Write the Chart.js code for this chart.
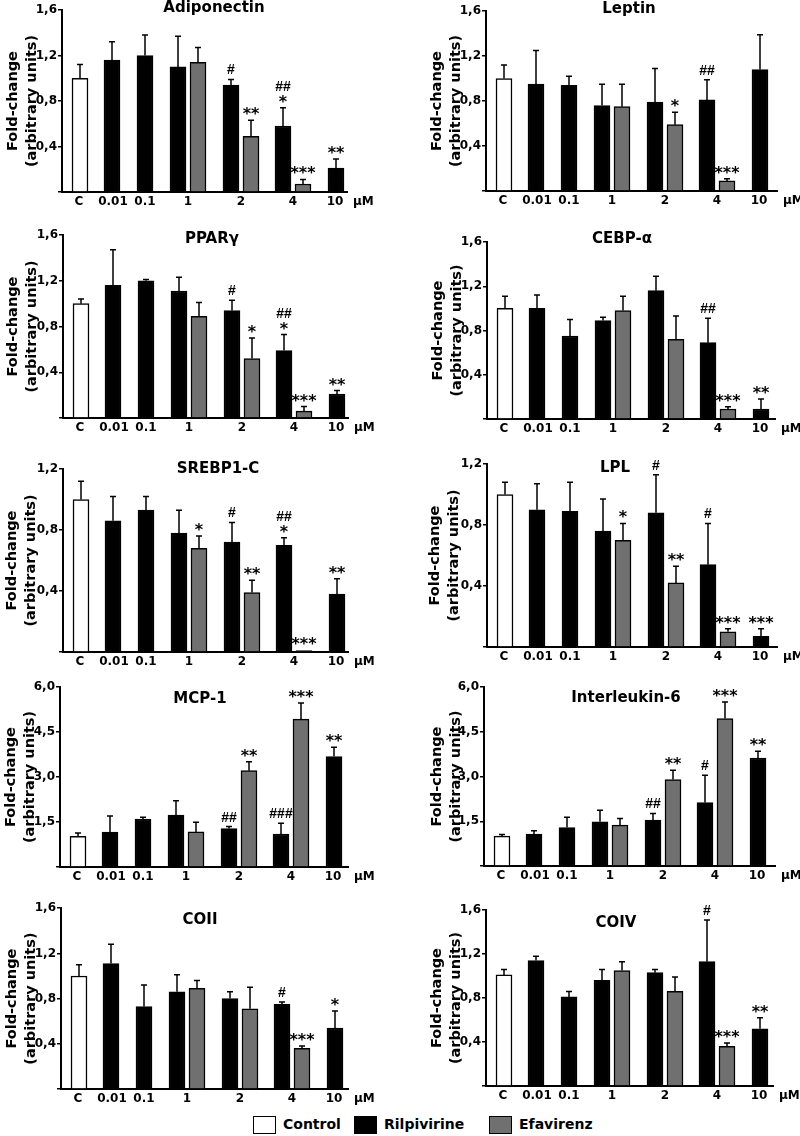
<!DOCTYPE html>
<html>
<head>
<meta charset="utf-8">
<script src="https://cdn.jsdelivr.net/npm/chart.js@4.4.1/dist/chart.umd.min.js"></script>
<style>
  body { margin: 0; background: #fff; }
  #figure { position: relative; width: 800px; height: 1136px; overflow: hidden; }
  .panel { position: absolute; }
  .legend { position: absolute; top: 1116px; height: 19px; line-height: 19px;
            font: bold 14px 'DejaVu Sans'; color: #000; white-space: nowrap; }
  .legend .box { position: absolute; left: 0; top: 0; width: 21px; height: 16px;
                 border: 1.5px solid #000; }
  .legend .txt { position: absolute; left: 30px; top: 0; }
</style>
</head>
<body>
<div id="figure">
  <div class="legend" style="left:253px"><span class="box" style="background:#fff"></span><span class="txt">Control</span></div>
  <div class="legend" style="left:354px"><span class="box" style="background:#000"></span><span class="txt">Rilpivirine</span></div>
  <div class="legend" style="left:489px"><span class="box" style="background:#707070"></span><span class="txt">Efavirenz</span></div>
</div>
<script>
// doses (µM) on the x axis
const doses = ['C', '0.01', '0.1', '1', '2', '4', '10'];
const rilDoses = ['0.01', '0.1', '1', '2', '4', '10'];
const efaDoses = ['1', '2', '4'];

// Adiponectin
const adipoCtrl = [1.00], adipoCtrlErr = [0.12];
const adipoRil = [1.16, 1.20, 1.10, 0.94, 0.58, 0.21];
const adipoRilErr = [0.16, 0.18, 0.27, 0.05, 0.16, 0.08];
const adipoEfa = [1.14, 0.49, 0.07];
const adipoEfaErr = [0.13, 0.14, 0.04];
const adipoRilSig = ['', '', '', '#', '##|*', '**'];
const adipoEfaSig = ['', '**', '***'];

// Leptin
const leptinCtrl = [1.00], leptinCtrlErr = [0.12];
const leptinRil = [0.95, 0.94, 0.76, 0.79, 0.81, 1.08];
const leptinRilErr = [0.30, 0.08, 0.19, 0.30, 0.18, 0.31];
const leptinEfa = [0.75, 0.59, 0.09];
const leptinEfaErr = [0.20, 0.11, 0.02];
const leptinRilSig = ['', '', '', '', '##', ''];
const leptinEfaSig = ['', '*', '***'];

// PPARγ
const pparCtrl = [1.00], pparCtrlErr = [0.04];
const pparRil = [1.16, 1.20, 1.11, 0.94, 0.59, 0.21];
const pparRilErr = [0.31, 0.01, 0.12, 0.09, 0.14, 0.03];
const pparEfa = [0.89, 0.52, 0.06];
const pparEfaErr = [0.12, 0.18, 0.04];
const pparRilSig = ['', '', '', '#', '##|*', '**'];
const pparEfaSig = ['', '*', '***'];

// CEBP-α
const cebpCtrl = [1.00], cebpCtrlErr = [0.11];
const cebpRil = [1.00, 0.75, 0.89, 1.16, 0.69, 0.09];
const cebpRilErr = [0.12, 0.15, 0.03, 0.13, 0.22, 0.09];
const cebpEfa = [0.98, 0.72, 0.09];
const cebpEfaErr = [0.13, 0.21, 0.02];
const cebpRilSig = ['', '', '', '', '##', '**'];
const cebpEfaSig = ['', '', '***'];

// SREBP1-C
const srebpCtrl = [1.00], srebpCtrlErr = [0.12];
const srebpRil = [0.86, 0.93, 0.78, 0.72, 0.70, 0.38];
const srebpRilErr = [0.16, 0.09, 0.15, 0.13, 0.05, 0.10];
const srebpEfa = [0.68, 0.39, 0.01];
const srebpEfaErr = [0.08, 0.08, 0];
const srebpRilSig = ['', '', '', '#', '##|*', '**'];
const srebpEfaSig = ['*', '**', '***'];

// LPL
const lplCtrl = [1.00], lplCtrlErr = [0.08];
const lplRil = [0.90, 0.89, 0.76, 0.88, 0.54, 0.07];
const lplRilErr = [0.17, 0.19, 0.21, 0.25, 0.27, 0.05];
const lplEfa = [0.70, 0.42, 0.10];
const lplEfaErr = [0.11, 0.11, 0.02];
const lplRilSig = ['', '', '', '#', '#', '***'];
const lplEfaSig = ['*', '**', '***'];

// MCP-1
const mcpCtrl = [1.02], mcpCtrlErr = [0.11];
const mcpRil = [1.16, 1.60, 1.73, 1.28, 1.10, 3.68];
const mcpRilErr = [0.54, 0.06, 0.48, 0.07, 0.36, 0.31];
const mcpEfa = [1.17, 3.21, 4.93];
const mcpEfaErr = [0.32, 0.30, 0.54];
const mcpRilSig = ['', '', '', '##', '###', '**'];
const mcpEfaSig = ['', '**', '***'];

// Interleukin-6
const il6Ctrl = [1.00], il6CtrlErr = [0.06];
const il6Ril = [1.07, 1.29, 1.48, 1.54, 2.13, 3.62];
const il6RilErr = [0.11, 0.34, 0.39, 0.22, 0.91, 0.23];
const il6Efa = [1.37, 2.90, 4.94];
const il6EfaErr = [0.22, 0.31, 0.56];
const il6RilSig = ['', '', '', '##', '#', '**'];
const il6EfaSig = ['', '**', '***'];

// COII
const co2Ctrl = [1.00], co2CtrlErr = [0.10];
const co2Ril = [1.11, 0.73, 0.86, 0.80, 0.75, 0.54];
const co2RilErr = [0.17, 0.19, 0.15, 0.06, 0.02, 0.15];
const co2Efa = [0.89, 0.71, 0.36];
const co2EfaErr = [0.07, 0.19, 0.02];
const co2RilSig = ['', '', '', '', '#', '*'];
const co2EfaSig = ['', '', '***'];

// COIV
const co4Ctrl = [1.01], co4CtrlErr = [0.05];
const co4Ril = [1.14, 0.81, 0.96, 1.03, 1.13, 0.52];
const co4RilErr = [0.04, 0.05, 0.10, 0.03, 0.38, 0.10];
const co4Efa = [1.05, 0.86, 0.36];
const co4EfaErr = [0.08, 0.13, 0.03];
const co4RilSig = ['', '', '', '', '#', '**'];
const co4EfaSig = ['', '', '***'];

const panels = [
  { title: 'Adiponectin', yMax: 1.6, step: 0.4, ctrl: adipoCtrl, ctrlErr: adipoCtrlErr, ril: adipoRil, rilErr: adipoRilErr, efa: adipoEfa, efaErr: adipoEfaErr, rilSig: adipoRilSig, efaSig: adipoEfaSig },
  { title: 'Leptin', yMax: 1.6, step: 0.4, ctrl: leptinCtrl, ctrlErr: leptinCtrlErr, ril: leptinRil, rilErr: leptinRilErr, efa: leptinEfa, efaErr: leptinEfaErr, rilSig: leptinRilSig, efaSig: leptinEfaSig },
  { title: 'PPARγ', yMax: 1.6, step: 0.4, ctrl: pparCtrl, ctrlErr: pparCtrlErr, ril: pparRil, rilErr: pparRilErr, efa: pparEfa, efaErr: pparEfaErr, rilSig: pparRilSig, efaSig: pparEfaSig },
  { title: 'CEBP-α', yMax: 1.6, step: 0.4, ctrl: cebpCtrl, ctrlErr: cebpCtrlErr, ril: cebpRil, rilErr: cebpRilErr, efa: cebpEfa, efaErr: cebpEfaErr, rilSig: cebpRilSig, efaSig: cebpEfaSig },
  { title: 'SREBP1-C', yMax: 1.2, step: 0.4, ctrl: srebpCtrl, ctrlErr: srebpCtrlErr, ril: srebpRil, rilErr: srebpRilErr, efa: srebpEfa, efaErr: srebpEfaErr, rilSig: srebpRilSig, efaSig: srebpEfaSig },
  { title: 'LPL', yMax: 1.2, step: 0.4, ctrl: lplCtrl, ctrlErr: lplCtrlErr, ril: lplRil, rilErr: lplRilErr, efa: lplEfa, efaErr: lplEfaErr, rilSig: lplRilSig, efaSig: lplEfaSig },
  { title: 'MCP-1', yMax: 6, step: 1.5, ctrl: mcpCtrl, ctrlErr: mcpCtrlErr, ril: mcpRil, rilErr: mcpRilErr, efa: mcpEfa, efaErr: mcpEfaErr, rilSig: mcpRilSig, efaSig: mcpEfaSig },
  { title: 'Interleukin-6', yMax: 6, step: 1.5, ctrl: il6Ctrl, ctrlErr: il6CtrlErr, ril: il6Ril, rilErr: il6RilErr, efa: il6Efa, efaErr: il6EfaErr, rilSig: il6RilSig, efaSig: il6EfaSig },
  { title: 'COII', yMax: 1.6, step: 0.4, ctrl: co2Ctrl, ctrlErr: co2CtrlErr, ril: co2Ril, rilErr: co2RilErr, efa: co2Efa, efaErr: co2EfaErr, rilSig: co2RilSig, efaSig: co2EfaSig },
  { title: 'COIV', yMax: 1.6, step: 0.4, ctrl: co4Ctrl, ctrlErr: co4CtrlErr, ril: co4Ril, rilErr: co4RilErr, efa: co4Efa, efaErr: co4EfaErr, rilSig: co4RilSig, efaSig: co4EfaSig }
];

// where each dose sits along the axis (axis units = px from the y axis)
const CTRL_SLOT = [18];
const RIL_SLOT = [50, 83, 116, 169, 221, 274];
const EFA_SLOT = [136, 189, 241];
const LABEL_SLOT = [17, 51, 83, 126, 179, 231, 273];

// canvas placement and plot box of every panel
const layouts = [
  { left: 0,   top: 0,   h: 225, axisX: 62, plotTop: 10, zero: 192, xEnd: 347, titleX: 214, titleY: 12, yPad: 3.5 },
  { left: 400, top: 0,   h: 225, axisX: 86, plotTop: 11, zero: 191, xEnd: 377, titleX: 229, titleY: 13, yPad: 27.5 },
  { left: 0,   top: 225, h: 225, axisX: 63, plotTop: 10, zero: 193, xEnd: 348, titleX: 212, titleY: 18, yPad: 3.5 },
  { left: 400, top: 225, h: 225, axisX: 87, plotTop: 17, zero: 194, xEnd: 375, titleX: 222, titleY: 18, yPad: 28.5 },
  { left: 0,   top: 450, h: 225, axisX: 63, plotTop: 19, zero: 202, xEnd: 348, titleX: 218, titleY: 23, yPad: 2.5 },
  { left: 400, top: 450, h: 225, axisX: 87, plotTop: 14, zero: 197, xEnd: 377, titleX: 215, titleY: 22, yPad: 25.5 },
  { left: 0,   top: 675, h: 225, axisX: 60, plotTop: 12, zero: 192, xEnd: 348, titleX: 200, titleY: 28, yPad: 1.5 },
  { left: 400, top: 675, h: 225, axisX: 84, plotTop: 12, zero: 191, xEnd: 375, titleX: 226, titleY: 27, yPad: 27.5 },
  { left: 0,   top: 900, h: 212, axisX: 61, plotTop: 7,  zero: 189, xEnd: 348, titleX: 200, titleY: 24, yPad: 2.5 },
  { left: 400, top: 900, h: 212, axisX: 86, plotTop: 10, zero: 186, xEnd: 373, titleX: 216, titleY: 27, yPad: 27.5 }
];

const TICK_FONT = { family: 'DejaVu Sans', weight: 'bold', size: 12 };
const STAR_FONT = "bold 16px 'DejaVu Sans'";
const HASH_FONT = "bold 14px 'Liberation Sans'";

Chart.defaults.font.family = 'DejaVu Sans';
Chart.defaults.color = '#000';

/** Barras de erro (só para cima) e marcas de significância */
const errorBars = {
  id: 'errorBars',
  afterDatasetsDraw(chart) {
    const { ctx } = chart;
    const y = chart.scales.y;
    ctx.save();
    ctx.strokeStyle = '#000';
    ctx.fillStyle = '#000';
    ctx.lineWidth = 1.5;
    ctx.textAlign = 'center';
    ctx.textBaseline = 'alphabetic';
    chart.data.datasets.forEach((ds, di) => {
      chart.getDatasetMeta(di).data.forEach((bar, i) => {
        const err = ds.errors[i];
        let top = bar.y;
        if (err) {
          top = y.getPixelForValue(ds.data[i].y + err);
          ctx.beginPath();
          ctx.moveTo(bar.x, bar.y);
          ctx.lineTo(bar.x, top);
          ctx.moveTo(bar.x - 3, top);
          ctx.lineTo(bar.x + 3, top);
          ctx.stroke();
        }
        const sig = ds.sig[i];
        if (!sig) return;
        let base = top - 5;
        sig.split('|').reverse().forEach(line => {
          ctx.font = line.includes('*') ? STAR_FONT : HASH_FONT;
          const m = ctx.measureText(line);
          ctx.fillText(line, bar.x, base - m.actualBoundingBoxDescent);
          base -= m.actualBoundingBoxAscent + m.actualBoundingBoxDescent + 4;
        });
      });
    });
    ctx.restore();
  }
};

/** Título do painel e unidade µM no fim do eixo x */
const panelDecor = {
  id: 'panelDecor',
  afterDraw(chart, args, opts) {
    const { ctx, chartArea } = chart;
    ctx.save();
    ctx.fillStyle = '#000';
    ctx.font = "bold 15px 'DejaVu Sans'";
    ctx.textAlign = 'center';
    ctx.textBaseline = 'alphabetic';
    ctx.fillText(opts.title, opts.x, opts.y);
    ctx.font = "bold 12px 'DejaVu Sans'";
    ctx.textAlign = 'left';
    ctx.textBaseline = 'top';
    ctx.fillText('μM', chartArea.right + 6, chartArea.bottom + 4);
    ctx.restore();
  }
};

const figure = document.getElementById('figure');

panels.forEach((p, k) => {
  const L = layouts[k];
  const wrap = document.createElement('div');
  wrap.className = 'panel';
  wrap.style.left = L.left + 'px';
  wrap.style.top = L.top + 'px';
  const canvas = document.createElement('canvas');
  canvas.width = 400;
  canvas.height = L.h;
  wrap.appendChild(canvas);
  figure.appendChild(wrap);

  const barStyle = { borderColor: '#000', borderWidth: 1.5, barThickness: 16, grouped: false };

  new Chart(canvas, {
    type: 'bar',
    data: {
      datasets: [
        { ...barStyle, label: 'Control', backgroundColor: '#fff',
          data: p.ctrl.map((v, i) => ({ x: CTRL_SLOT[i], y: v })), errors: p.ctrlErr, sig: [''] },
        { ...barStyle, label: 'Rilpivirine', backgroundColor: '#000',
          data: p.ril.map((v, i) => ({ x: RIL_SLOT[i], y: v })), errors: p.rilErr, sig: p.rilSig },
        { ...barStyle, label: 'Efavirenz', backgroundColor: '#707070',
          data: p.efa.map((v, i) => ({ x: EFA_SLOT[i], y: v })), errors: p.efaErr, sig: p.efaSig }
      ]
    },
    options: {
      responsive: false,
      animation: false,
      layout: { padding: { top: L.plotTop, right: 400 - L.xEnd, left: 0, bottom: 0 } },
      scales: {
        x: {
          type: 'linear', min: 0, max: L.xEnd - L.axisX, offset: false,
          grid: { display: false, drawTicks: false },
          border: { display: true, color: '#000', width: 2 },
          afterBuildTicks: s => { s.ticks = LABEL_SLOT.map(v => ({ value: v })); },
          ticks: { autoSkip: false, maxRotation: 0, padding: 3, color: '#000', font: TICK_FONT,
                   callback: (v, i) => doses[i] },
          afterFit: s => { s.height = L.h - L.zero; }
        },
        y: {
          min: 0, max: p.yMax,
          grid: { drawOnChartArea: false, drawTicks: true, tickLength: 4, color: '#000', lineWidth: 1.5 },
          border: { display: true, color: '#000', width: 2 },
          ticks: { stepSize: p.step, padding: 1, color: '#000', font: TICK_FONT,
                   callback: v => v === 0 ? '' : v.toFixed(1).replace('.', ',') },
          title: { display: true, text: ['Fold-change', '(arbitrary units)'], color: '#000',
                   font: { family: 'DejaVu Sans', weight: 'bold', size: 14.5, lineHeight: '19px' },
                   padding: { top: L.yPad, bottom: 0 } },
          afterFit: s => { s.width = L.axisX; }
        }
      },
      plugins: {
        legend: { display: false },
        tooltip: { enabled: false },
        panelDecor: { title: p.title, x: L.titleX, y: L.titleY }
      }
    },
    plugins: [errorBars, panelDecor]
  });
});
</script>
</body>
</html>
